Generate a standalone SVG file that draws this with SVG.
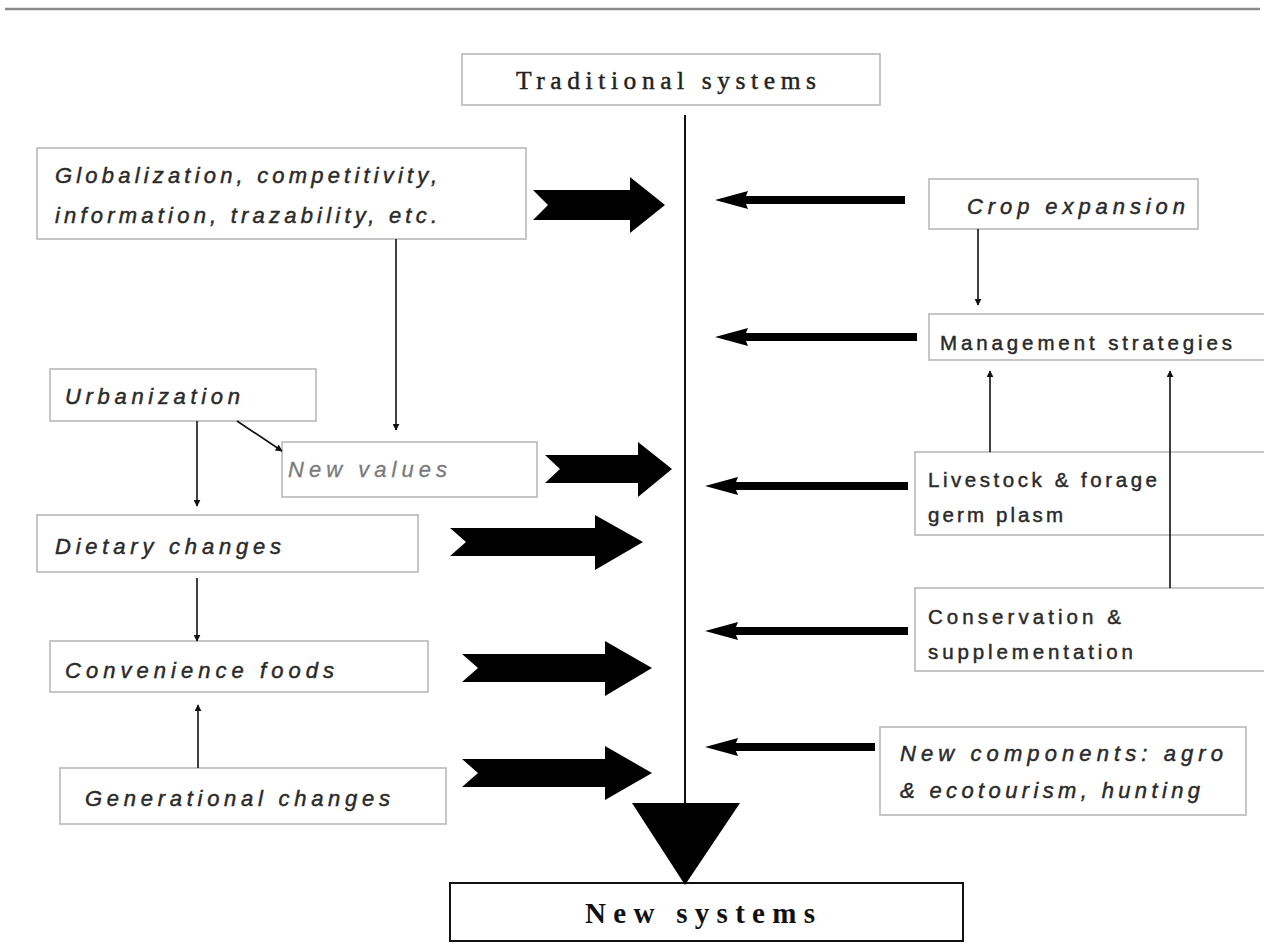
<svg xmlns="http://www.w3.org/2000/svg" width="1264" height="947" viewBox="0 0 1264 947">
<defs>
<style>
.box{fill:#fff;stroke:#b8b8b8;stroke-width:1.6}
.t{font-family:"Liberation Sans",Arial,sans-serif;font-size:22px;fill:#2a2a2a;stroke:#2a2a2a;stroke-width:0.45}
.r{font-size:20.5px}
.i{font-style:italic}
.thin{stroke:#111;stroke-width:1.6;fill:none}
.big{fill:#000}
</style>
<marker id="ah" viewBox="0 0 10 10" refX="9" refY="5" markerWidth="7" markerHeight="7" orient="auto" markerUnits="userSpaceOnUse">
<path d="M0,0 L10,5 L0,10 Z" fill="#111"/>
</marker>
</defs>
<rect width="1264" height="947" fill="#fff"/>
<line x1="5" y1="9" x2="1260" y2="9" stroke="#8a8a8a" stroke-width="2.5"/>

<g id="traditional">
<rect class="box" x="462" y="54" width="418" height="51"/>
<text x="516" y="89" font-family="Liberation Serif,'Times New Roman',serif" font-size="25.5" fill="#222" stroke="#222" stroke-width="0.45" textLength="300" lengthAdjust="spacing">Traditional systems</text>
</g>
<g id="globalization">
<rect class="box" x="37" y="148" width="489" height="91"/>
<text class="t i" x="55" y="183" textLength="382" lengthAdjust="spacing">Globalization, competitivity,</text>
<text class="t i" x="55" y="223" textLength="382" lengthAdjust="spacing">information, trazability,  etc.</text>
</g>
<g id="crop">
<rect class="box" x="929" y="179" width="269" height="50"/>
<text class="t i" x="967" y="214" textLength="218" lengthAdjust="spacing">Crop expansion</text>
</g>
<g id="management">
<rect class="box" x="929" y="314" width="340" height="46"/>
<text class="t r" x="940" y="350" textLength="292" lengthAdjust="spacing">Management strategies</text>
</g>
<g id="urbanization">
<rect class="box" x="50" y="369" width="266" height="52"/>
<text class="t i" x="65" y="404" textLength="175" lengthAdjust="spacing">Urbanization</text>
</g>
<g id="newvalues">
<rect class="box" x="282" y="442" width="255" height="55"/>
<text class="t i" x="288" y="477" style="fill:#7a7a7a;stroke:#7a7a7a;stroke-width:0.3" textLength="159" lengthAdjust="spacing">New  values</text>
</g>
<g id="livestock">
<rect class="box" x="915" y="452" width="354" height="83"/>
<text class="t r" x="928" y="487" textLength="229" lengthAdjust="spacing">Livestock &amp; forage</text>
<text class="t r" x="928" y="522" textLength="135" lengthAdjust="spacing">germ plasm</text>
</g>
<g id="dietary">
<rect class="box" x="37" y="515" width="381" height="57"/>
<text class="t i" x="55" y="554" textLength="226" lengthAdjust="spacing">Dietary changes</text>
</g>
<g id="conservation">
<rect class="box" x="915" y="588" width="354" height="83"/>
<text class="t r" x="928" y="624" textLength="193" lengthAdjust="spacing">Conservation &amp;</text>
<text class="t r" x="928" y="659" textLength="205" lengthAdjust="spacing">supplementation</text>
</g>
<g id="convenience">
<rect class="box" x="50" y="641" width="378" height="51"/>
<text class="t i" x="65" y="678" textLength="269" lengthAdjust="spacing">Convenience foods</text>
</g>
<g id="newcomponents">
<rect class="box" x="880" y="727" width="366" height="88"/>
<text class="t i" x="900" y="761" textLength="323" lengthAdjust="spacing">New components: agro</text>
<text class="t i" x="900" y="798" textLength="300" lengthAdjust="spacing">&amp; ecotourism, hunting</text>
</g>
<g id="generational">
<rect class="box" x="60" y="768" width="386" height="56"/>
<text class="t i" x="85" y="806" textLength="305" lengthAdjust="spacing">Generational changes</text>
</g>
<g id="newsystems">
<rect x="450" y="883" width="513" height="58" fill="#fff" stroke="#111" stroke-width="2"/>
<text x="585" y="923" font-family="Liberation Serif,'Times New Roman',serif" font-weight="bold" font-size="29" fill="#111" textLength="230" lengthAdjust="spacing">New systems</text>
</g>

<g id="connectors">
<line x1="685" y1="115" x2="685" y2="808" stroke="#111" stroke-width="2"/>
<polygon class="big" points="632,803 740,803 685,885"/>
<polygon class="big" points="533,190 630,190 630,177 665,205 630,233 630,220 533,220 548,205"/>
<polygon class="big" points="545,455 638,455 638,442 672,469 638,497 638,483 545,483 560,469"/>
<polygon class="big" points="450,528 595,528 595,515 643,542 595,570 595,556 450,556 466,542"/>
<polygon class="big" points="462,654 605,654 605,641 652,668 605,696 605,682 462,682 478,668"/>
<polygon class="big" points="462,759 605,759 605,746 652,773 605,800 605,787 462,787 478,773"/>
<path class="big" d="M905,196 L746,196 L748,191 L715,200 L748,209 L746,204 L905,204 Z"/>
<path class="big" d="M917,333 L746,333 L748,328 L715,337 L748,346 L746,341 L917,341 Z"/>
<path class="big" d="M908,482 L736,482 L738,477 L705,486 L738,495 L736,490 L908,490 Z"/>
<path class="big" d="M908,627 L736,627 L738,622 L705,631 L738,640 L736,635 L908,635 Z"/>
<path class="big" d="M875,743 L736,743 L738,738 L705,747 L738,756 L736,751 L875,751 Z"/>
<line class="thin" x1="396" y1="239" x2="396" y2="430" marker-end="url(#ah)"/>
<line class="thin" x1="978" y1="229" x2="978" y2="305" marker-end="url(#ah)"/>
<line class="thin" x1="990" y1="452" x2="990" y2="371" marker-end="url(#ah)"/>
<line class="thin" x1="1170" y1="588" x2="1170" y2="371" marker-end="url(#ah)"/>
<line class="thin" x1="237" y1="421" x2="282" y2="451" marker-end="url(#ah)"/>
<line class="thin" x1="197" y1="421" x2="197" y2="506" marker-end="url(#ah)"/>
<line class="thin" x1="197" y1="578" x2="197" y2="641" marker-end="url(#ah)"/>
<line class="thin" x1="198" y1="768" x2="198" y2="705" marker-end="url(#ah)"/>
</g>
</svg>
